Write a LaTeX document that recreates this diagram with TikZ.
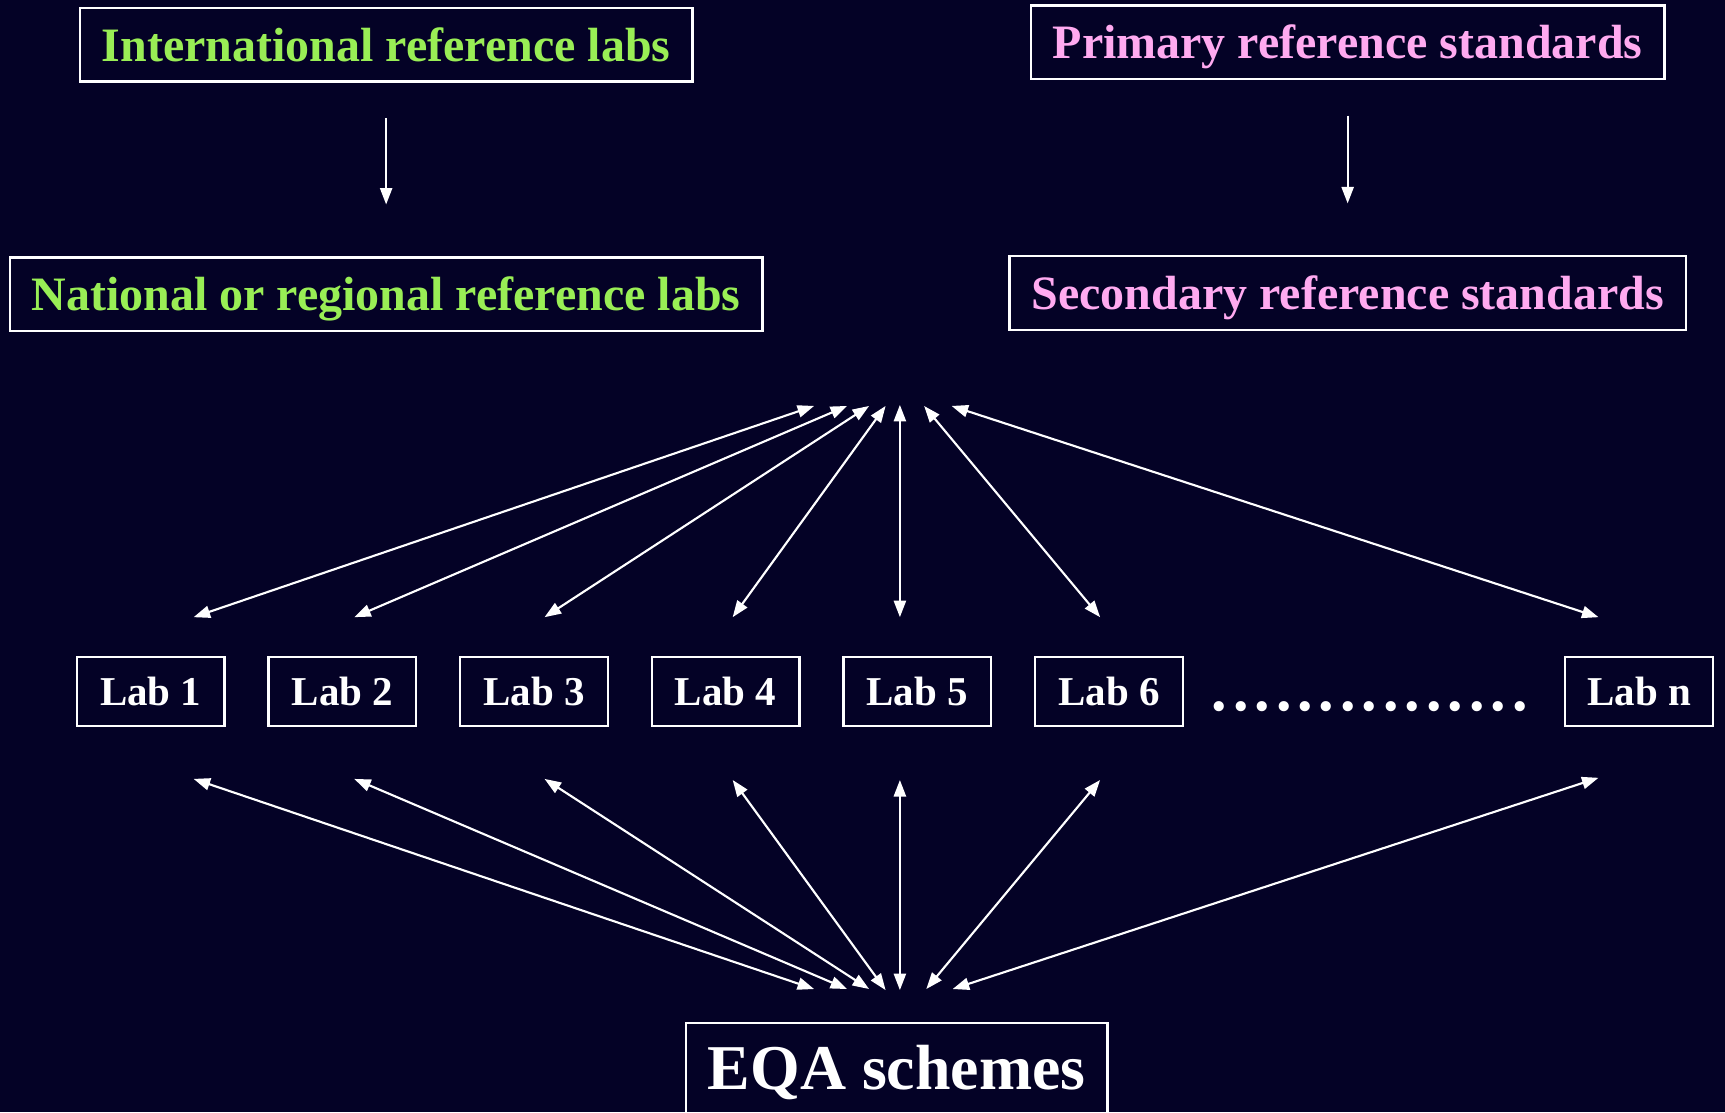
\documentclass[tikz,border=0pt]{standalone}
\usepackage{fontspec}
\setmainfont{Liberation Serif}
\usepackage{xcolor}
\usetikzlibrary{arrows.meta, positioning}

\definecolor{slidebg}{HTML}{040226}
\definecolor{labgreen}{HTML}{99EE55}
\definecolor{stdpink}{HTML}{FFAAF0}

\begin{document}
\begin{tikzpicture}[
    x=0.01cm, y=-0.01cm,
    every node/.style={font=\bfseries, text=white},
    box/.style={draw=white, line width=0.6pt, inner xsep=0.2cm, inner ysep=0pt, text depth=0pt},
    refbox/.style={box, font=\fontsize{12.4}{14}\selectfont\bfseries,
      text height=0.3cm, minimum height=0.67cm},
    labbox/.style={box, font=\fontsize{10.6}{12}\selectfont\bfseries,
      text height=0.257cm, minimum width=1.34cm, minimum height=0.63cm},
    fan/.style={<->, white, line width=0.55pt},
    down/.style={->, white, line width=0.55pt, shorten <=0.32cm, shorten >=0.47cm},
    >={Triangle[length=0.15cm, width=0.11cm]},
    node distance=0.38cm
  ]

  % slide area: 1568 x 1011 units, y grows downwards
  \useasboundingbox (0,0) rectangle (1568,1011);
  \clip (0,0) rectangle (1568,1011);
  \fill[slidebg] (0,0) rectangle (1568,1011);

  % ── Reference levels (top) ──────────────────────────────────────────────
  \node[refbox, text=labgreen] (intl) at (351,40.5) {International reference labs};
  \node[refbox, text=labgreen] (natl) at (351,267.5) {National or regional reference labs};
  \node[refbox, text=stdpink]  (prim) at (1225,38.5) {Primary reference standards};
  \node[refbox, text=stdpink]  (secd) at (1225,266.5) {Secondary reference standards};

  \draw[down] (intl) -- (natl);
  \draw[down] (prim) -- (secd);

  % ── Row of labs ─────────────────────────────────────────────────────────
  \node[labbox] (lab1) at (137,628.5) {Lab 1};
  \node[labbox, right=of lab1] (lab2) {Lab 2};
  \node[labbox, right=of lab2] (lab3) {Lab 3};
  \node[labbox, right=of lab3] (lab4) {Lab 4};
  \node[labbox, right=of lab4] (lab5) {Lab 5};
  \node[labbox, right=of lab5] (lab6) {Lab 6};
  \node[labbox] (labn) at (1490,628.5) {Lab n};
  \node[font=\fontsize{22.2}{24}\selectfont\mdseries, anchor=base] (dots) at (1245,646) {...............};

  % ── EQA schemes (bottom, cut by the slide edge) ─────────────────────────
  \node[box, font=\fontsize{16.5}{18}\selectfont\bfseries, inner ysep=0.2cm,
    text height=0.4cm, text depth=0.5cm, anchor=base] (eqa) at (815,990) {EQA schemes};

  % ── Fan above the labs ──────────────────────────────────────────────────
  % lab ends at y=561, meeting ends at y=369
  \coordinate (up1) at (176,561);  \coordinate (top1) at (740,369);
  \coordinate (up2) at (322,561);  \coordinate (top2) at (770,369);
  \coordinate (up3) at (495,561);  \coordinate (top3) at (790,369);
  \coordinate (up4) at (666,561);  \coordinate (top4) at (805,369);
  \coordinate (up5) at (818,561);  \coordinate (top5) at (818,368);
  \coordinate (up6) at (1000,561); \coordinate (top6) at (840,369);
  \coordinate (upn) at (1453,561); \coordinate (topn) at (865,369);

  \draw[fan] (up1) -- (top1);
  \draw[fan] (up2) -- (top2);
  \draw[fan] (up3) -- (top3);
  \draw[fan] (up4) -- (top4);
  \draw[fan] (up5) -- (top5);
  \draw[fan] (up6) -- (top6);
  \draw[fan] (upn) -- (topn);

  % ── Fan below the labs (mirror of the upper one) ────────────────────────
  \coordinate (dn1) at (176,708);  \coordinate (bot1) at (740,899);
  \coordinate (dn2) at (322,708);  \coordinate (bot2) at (770,899);
  \coordinate (dn3) at (495,708);  \coordinate (bot3) at (790,899);
  \coordinate (dn4) at (666,709);  \coordinate (bot4) at (805,900);
  \coordinate (dn5) at (818,709);  \coordinate (bot5) at (818,900);
  \coordinate (dn6) at (1000,709); \coordinate (bot6) at (842,899);
  \coordinate (dnn) at (1453,707); \coordinate (botn) at (866,899);

  \draw[fan] (dn1) -- (bot1);
  \draw[fan] (dn2) -- (bot2);
  \draw[fan] (dn3) -- (bot3);
  \draw[fan] (dn4) -- (bot4);
  \draw[fan] (dn5) -- (bot5);
  \draw[fan] (dn6) -- (bot6);
  \draw[fan] (dnn) -- (botn);

\end{tikzpicture}
\end{document}
